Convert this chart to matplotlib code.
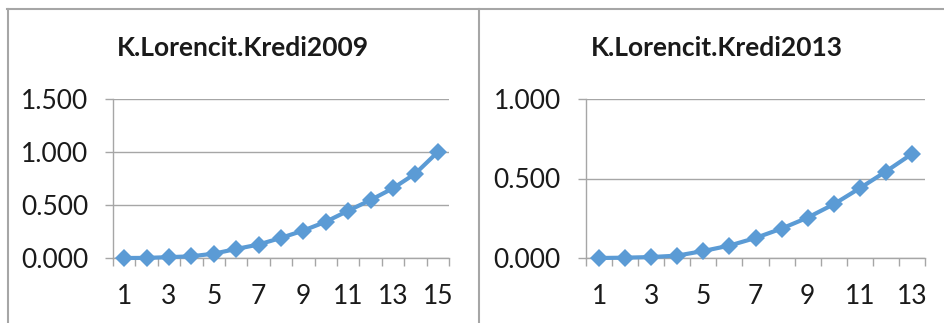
import matplotlib
matplotlib.use("Agg")
import matplotlib.pyplot as plt
from matplotlib.lines import Line2D
from matplotlib.ticker import FixedLocator, FuncFormatter

plt.rcParams['font.family'] = ['Lato', 'DejaVu Sans']

# Data
titles = ["K.Lorencit.Kredi2009", "K.Lorencit.Kredi2013"]
kredi2009 = [0.000, 0.001, 0.008, 0.016, 0.041, 0.085, 0.127, 0.190, 0.259,
             0.342, 0.446, 0.547, 0.658, 0.797, 1.000]
kredi2013 = [0.000, 0.002, 0.006, 0.015, 0.044, 0.078, 0.126, 0.185, 0.254,
             0.338, 0.439, 0.544, 0.655]
y_ticks_2009 = [0.0, 0.5, 1.0, 1.5]
y_ticks_2013 = [0.0, 0.5, 1.0]

LINE_BLUE = "#5B9BD5"
GRID_GRAY = "#A6A6A6"
FRAME_GRAY = "#A6A6A6"

W, H = 944, 323
fig = plt.figure(figsize=(W / 100, H / 100), dpi=100)


def px_axes(x0, x1, ytop, ybot):
    return fig.add_axes([x0 / W, 1 - ybot / H, (x1 - x0) / W, (ybot - ytop) / H])


def fmt(v, _pos):
    return f"{v:.3f}"


def draw_panel(ax, values, yticks):
    n = len(values)
    cats = list(range(1, n + 1))
    ax.plot(cats, values, color=LINE_BLUE, lw=3.0, marker="D", ms=9,
            markeredgewidth=0, zorder=3, clip_on=False)
    ax.set_xlim(0.5, n + 0.5)
    ax.set_ylim(yticks[0], yticks[-1])

    ax.yaxis.set_major_locator(FixedLocator(yticks))
    ax.yaxis.set_major_formatter(FuncFormatter(fmt))
    ax.grid(axis="y", color=GRID_GRAY, lw=1.0, zorder=1)

    ax.xaxis.set_major_locator(FixedLocator(cats[::2]))
    ax.xaxis.set_minor_locator(FixedLocator([c + 0.5 for c in range(0, n + 1)]))
    ax.tick_params(axis="x", which="major", length=0, pad=19, labelsize=19,
                   labelcolor="#1a1a1a")
    ax.tick_params(axis="x", which="minor", length=6, width=1.0,
                   color=GRID_GRAY, direction="out")
    ax.tick_params(axis="y", which="major", length=6, width=1.0,
                   color=GRID_GRAY, pad=12, labelsize=19, labelcolor="#1a1a1a")

    for side in ("top", "right"):
        ax.spines[side].set_visible(False)
    for side in ("left", "bottom"):
        ax.spines[side].set_color(GRID_GRAY)
        ax.spines[side].set_linewidth(1.0)
        ax.spines[side].set_zorder(2)
    ax.set_facecolor("none")


ax1 = px_axes(113, 449, 99, 258)
draw_panel(ax1, kredi2009, y_ticks_2009)
ax2 = px_axes(586, 925, 99, 258)
draw_panel(ax2, kredi2013, y_ticks_2013)

fig.text(243 / W, 1 - 48 / H, titles[0], ha="center", va="center",
         fontsize=19, fontweight="bold", color="#1a1a1a")
fig.text(717 / W, 1 - 48 / H, titles[1], ha="center", va="center",
         fontsize=19, fontweight="bold", color="#1a1a1a")

# Chart frames
frame_kw = dict(color=FRAME_GRAY, lw=1.5, transform=fig.transFigure)
fig.add_artist(Line2D([7 / W, 1.0], [1 - 8.5 / H] * 2, **frame_kw))
fig.add_artist(Line2D([7.5 / W] * 2, [0, 1 - 8.5 / H], **frame_kw))
fig.add_artist(Line2D([478.5 / W] * 2, [0, 1 - 8.5 / H], **frame_kw))

fig.savefig("out.png", dpi=100)
